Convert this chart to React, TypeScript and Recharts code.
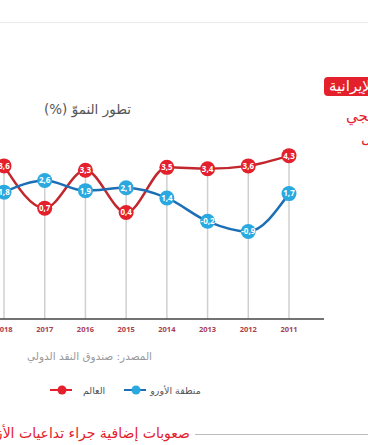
import React from 'react';
import { LineChart, Line, XAxis, YAxis, ReferenceLine, LabelList } from 'recharts';

const years = ['2018', '2017', '2016', '2015', '2014', '2013', '2012', '2011'];
const worldValues = [3.6, 0.7, 3.3, 0.4, 3.5, 3.4, 3.6, 4.3];
const euroValues = [1.8, 2.6, 1.9, 2.1, 1.4, -0.2, -0.9, 1.7];
const yDomain: [number, number] = [-6.9, 5.1];

const data = years.map((y, i) => ({ year: y, world: worldValues[i], euro: euroValues[i] }));

const RED = '#e3202b';
const RED_LINE = '#c1272d';
const BLUE = '#2aa9e0';
const BLUE_LINE = '#1c6fb4';
const ARABIC = '"DejaVu Sans", sans-serif';

const fmt = (v: any) => String(v).replace('.', ',');

export default function App() {
  return (
    <div style={{ position: 'absolute', left: 0, top: 0, width: 368, height: 445, overflow: 'hidden', background: '#fff' }}>
      <div style={{ position: 'absolute', left: 0, top: 22, width: 368, height: 1, background: '#ececec' }} />

      <div style={{ position: 'absolute', left: 44, top: 101, fontFamily: ARABIC, fontSize: 13.5, color: '#555', direction: 'rtl', whiteSpace: 'nowrap' }}>
        تطور النموّ (%)
      </div>

      <div style={{ position: 'absolute', left: 324, top: 77, height: 19, paddingLeft: 5, paddingRight: 40, background: RED, borderRadius: 4, color: '#fff', fontFamily: ARABIC, fontSize: 15, lineHeight: '19px', direction: 'rtl', whiteSpace: 'nowrap' }}>
        التداعيات الإيرانية
      </div>
      <div style={{ position: 'absolute', left: 346, top: 107, color: RED, fontFamily: ARABIC, fontSize: 15, direction: 'rtl', whiteSpace: 'nowrap' }}>
        الخليجي
      </div>
      <div style={{ position: 'absolute', left: 361, top: 129, color: RED, fontFamily: ARABIC, fontSize: 15, direction: 'rtl', whiteSpace: 'nowrap' }}>
        المستقبل
      </div>

      <div style={{ position: 'absolute', left: -40, top: 134 }}>
        <LineChart width={364} height={215} data={data} margin={{ top: 10, right: 0, bottom: 0, left: 0 }}>
          <XAxis
            dataKey="year"
            scale="point"
            padding={{ left: 44, right: 35 }}
            axisLine={{ stroke: '#444', strokeWidth: 1.5 }}
            tickLine={false}
            height={30}
            tick={{ fill: '#a8404f', fontSize: 7.5, fontWeight: 700, fontFamily: 'Open Sans' }}
            interval={0}
          />
          <YAxis hide domain={yDomain} type="number" allowDataOverflow />
          {data.map((d) => (
            <ReferenceLine
              key={d.year}
              segment={[{ x: d.year, y: yDomain[0] }, { x: d.year, y: Math.max(d.world, d.euro) }]}
              stroke="#cfcfcf"
              strokeWidth={1.5}
            />
          ))}
          <Line
            type="monotone"
            dataKey="world"
            stroke={RED_LINE}
            strokeWidth={2.5}
            dot={{ r: 7.5, fill: RED, stroke: 'none' }}
            isAnimationActive={false}
          >
            <LabelList dataKey="world" position="center" formatter={fmt} fill="#fff" fontSize={8} fontWeight={700} fontFamily="Open Sans" />
          </Line>
          <Line
            type="monotone"
            dataKey="euro"
            stroke={BLUE_LINE}
            strokeWidth={2.5}
            dot={{ r: 7.5, fill: BLUE, stroke: 'none' }}
            isAnimationActive={false}
          >
            <LabelList dataKey="euro" position="center" formatter={fmt} fill="#fff" fontSize={8} fontWeight={700} fontFamily="Open Sans" />
          </Line>
        </LineChart>
      </div>

      <div style={{ position: 'absolute', left: 27, top: 350, fontFamily: ARABIC, fontSize: 10.5, color: '#999', direction: 'rtl', whiteSpace: 'nowrap' }}>
        المصدر: صندوق النقد الدولي
      </div>

      <div style={{ position: 'absolute', left: 50, top: 384, display: 'flex', alignItems: 'center', fontFamily: ARABIC, fontSize: 9.5, color: '#555' }}>
        <svg width={22} height={12}>
          <line x1={0} y1={6} x2={22} y2={6} stroke={RED} strokeWidth={2} />
          <circle cx={12} cy={6} r={4.5} fill={RED} />
        </svg>
        <span style={{ marginLeft: 11, direction: 'rtl' }}>العالم</span>
        <svg width={22} height={12} style={{ marginLeft: 19 }}>
          <line x1={0} y1={6} x2={22} y2={6} stroke={BLUE_LINE} strokeWidth={2} />
          <circle cx={12} cy={6} r={4.5} fill={BLUE} />
        </svg>
        <span style={{ marginLeft: 4, direction: 'rtl' }}>منطقة الأورو</span>
      </div>

      <div style={{ position: 'absolute', right: 178, top: 425, fontFamily: ARABIC, fontSize: 14, color: RED, direction: 'rtl', whiteSpace: 'nowrap' }}>
        صعوبات إضافية جراء تداعيات الأزمة
      </div>
      <div style={{ position: 'absolute', left: 195, top: 434, width: 173, height: 1, background: '#bbb' }} />
    </div>
  );
}
